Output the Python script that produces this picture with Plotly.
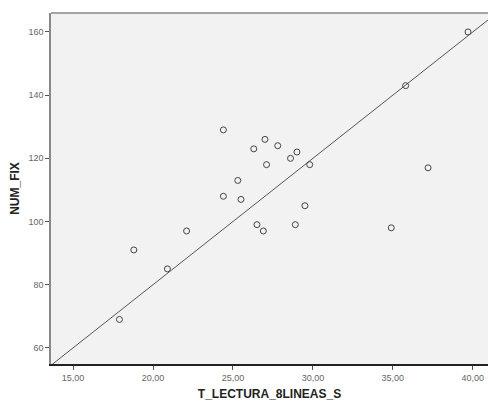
import plotly.graph_objects as go

# Reading time (s) for 8 lines vs. number of fixations
t_lectura = [24.4, 27.0, 26.3, 27.8, 29.0, 28.6, 29.8, 27.1, 25.3, 24.4, 25.5, 29.5,
             26.5, 26.9, 28.9, 22.1, 18.8, 20.9, 17.9, 39.7, 35.8, 37.2, 34.9]
num_fix = [129, 126, 123, 124, 122, 120, 118, 118, 113, 108, 107, 105,
           99, 97, 99, 97, 91, 85, 69, 160, 143, 117, 98]

# Reference line y = a + b*x
ref_intercept = 0.0
ref_slope = 4.0

x_ticks = [15, 20, 25, 30, 35, 40]
x_tick_text = ["15,00", "20,00", "25,00", "30,00", "35,00", "40,00"]
y_ticks = [60, 80, 100, 120, 140, 160]

x_range = [13.62, 40.95]
y_range = [54.9, 166.0]

line_x = [x_range[0] - 1, x_range[1] + 1]
line_y = [ref_intercept + ref_slope * v for v in line_x]

fig = go.Figure()
fig.add_trace(go.Scatter(
    x=line_x, y=line_y, mode="lines",
    line=dict(color="#555555", width=1),
    hoverinfo="skip", showlegend=False,
))
fig.add_trace(go.Scatter(
    x=t_lectura, y=num_fix, mode="markers",
    marker=dict(symbol="circle-open", size=6, color="#444444",
                line=dict(width=1, color="#444444")),
    showlegend=False,
))

fig.update_layout(
    width=488, height=401,
    margin=dict(l=51, r=0, t=13, b=37),
    paper_bgcolor="white",
    plot_bgcolor="#f2f2f2",
    font=dict(family="Liberation Sans, Arial, sans-serif", color="#555555"),
    xaxis=dict(
        range=x_range, tickvals=x_ticks, ticktext=x_tick_text,
        showgrid=False, zeroline=False,
        showline=True, linecolor="#222222", linewidth=1.5,
        ticks="outside", ticklen=4, tickcolor="#555555",
        tickfont=dict(size=9, color="#666666"),
        title=dict(text="<b>T_LECTURA_8LINEAS_S</b>",
                   font=dict(size=12, color="#222222"), standoff=10),
    ),
    yaxis=dict(
        range=y_range, tickvals=y_ticks,
        showgrid=False, zeroline=False,
        showline=True, linecolor="#888888", linewidth=1.5,
        ticks="outside", ticklen=4, tickcolor="#555555",
        tickfont=dict(size=9, color="#666666"),
        title=dict(text="<b>NUM_FIX</b>",
                   font=dict(size=12, color="#222222"), standoff=6),
    ),
    shapes=[dict(type="line", xref="paper", yref="paper",
                 x0=0, x1=1, y0=1, y1=1,
                 line=dict(color="#888888", width=1.5))],
)

fig.write_html("out.html")
